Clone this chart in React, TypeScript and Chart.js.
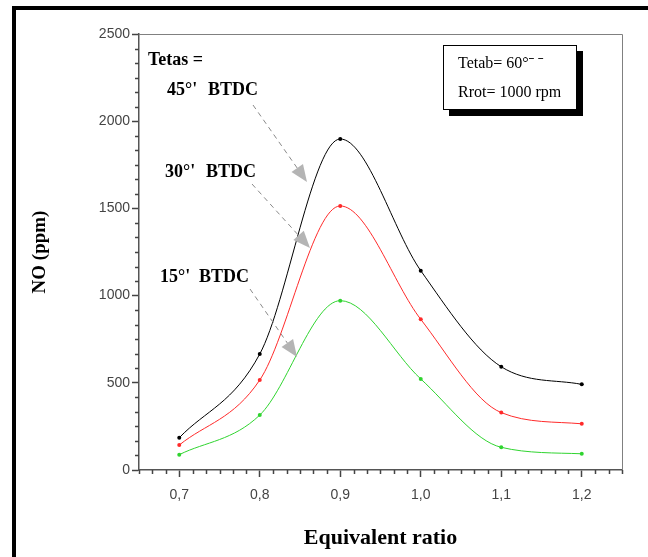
import React, { useEffect, useRef } from 'react';
import { Chart, registerables } from 'chart.js';

Chart.register(...registerables);

// ---- data ----
const equivalentRatio = [0.7, 0.8, 0.9, 1.0, 1.1, 1.2];
const no45 = [185, 665, 1898, 1143, 592, 491];
const no30 = [143, 516, 1514, 864, 329, 265];
const no15 = [88, 315, 971, 522, 130, 93];
const xMajorTicks = [0.7, 0.8, 0.9, 1.0, 1.1, 1.2];
const yMajorTicks = [0, 500, 1000, 1500, 2000, 2500];
const seriesDegrees = ["45°'", "30°'", "15°'"];
const seriesSuffix = 'BTDC';
const groupTitle = 'Tetas =';
const infoLines = ['Tetab= 60°ˉ ˉ', 'Rrot= 1000 rpm'];
const xTitle = 'Equivalent ratio';
const yTitle = 'NO (ppm)';

const xMinorTicks: number[] = [];
for (let k = -3; k <= 33; k++) if (k % 6 !== 0) xMinorTicks.push(0.7 + k / 60);
const yMinorTicks: number[] = [];
for (let k = 1; k < 30; k++) if (k % 6 !== 0) yMinorTicks.push((k * 500) / 6);

const toPts = (ys: number[]) => equivalentRatio.map((x, i) => ({ x, y: ys[i] }));

const SERIF = '"Liberation Serif", "Times New Roman", serif';
const SANS = '"Liberation Sans", Arial, sans-serif';

function arrow(ctx: CanvasRenderingContext2D, x0: number, y0: number, x1: number, y1: number) {
  const ang = Math.atan2(y1 - y0, x1 - x0);
  const len = 17;
  const hw = 7;
  const bx = x1 - len * Math.cos(ang);
  const by = y1 - len * Math.sin(ang);
  ctx.save();
  ctx.strokeStyle = '#8a8a8a';
  ctx.lineWidth = 1;
  ctx.setLineDash([5, 4]);
  ctx.beginPath();
  ctx.moveTo(x0, y0);
  ctx.lineTo(bx, by);
  ctx.stroke();
  ctx.setLineDash([]);
  ctx.fillStyle = '#b4b4b4';
  ctx.beginPath();
  ctx.moveTo(x1, y1);
  ctx.lineTo(bx + hw * Math.sin(ang), by - hw * Math.cos(ang));
  ctx.lineTo(bx - hw * Math.sin(ang), by + hw * Math.cos(ang));
  ctx.closePath();
  ctx.fill();
  ctx.restore();
}

const decorPlugin = {
  id: 'decor',
  afterDraw(chart: any) {
    const ctx: CanvasRenderingContext2D = chart.ctx;
    const { left, right, top, bottom } = chart.chartArea;
    const xs = chart.scales.x;
    const ys = chart.scales.y;
    ctx.save();
    // top and right frame
    ctx.strokeStyle = '#808080';
    ctx.lineWidth = 1;
    ctx.beginPath();
    ctx.moveTo(left, top + 0.5);
    ctx.lineTo(right + 0.5, top + 0.5);
    ctx.lineTo(right + 0.5, bottom);
    ctx.stroke();
    // minor ticks
    ctx.strokeStyle = '#444';
    ctx.lineWidth = 1.5;
    ctx.beginPath();
    xMinorTicks.forEach((v) => {
      const px = Math.round(xs.getPixelForValue(v)) + 0.5;
      ctx.moveTo(px, bottom);
      ctx.lineTo(px, bottom + 4);
    });
    yMinorTicks.forEach((v) => {
      const py = Math.round(ys.getPixelForValue(v)) + 0.5;
      ctx.moveTo(left, py);
      ctx.lineTo(left - 4, py);
    });
    ctx.stroke();

    // series labels
    ctx.fillStyle = '#000';
    ctx.textBaseline = 'middle';
    ctx.textAlign = 'left';
    ctx.font = `bold 18px ${SERIF}`;
    ctx.fillText(groupTitle, 148, 60);
    const rows = [
      { x: 167, bx: 208, y: 90 },
      { x: 165, bx: 206, y: 172 },
      { x: 160, bx: 199, y: 277 },
    ];
    rows.forEach((r, i) => {
      ctx.fillText(seriesDegrees[i], r.x, r.y);
      ctx.fillText(seriesSuffix, r.bx, r.y);
    });

    // arrows
    arrow(ctx, 253, 105, 307, 182);
    arrow(ctx, 252, 184, 310, 248);
    arrow(ctx, 250, 289, 297, 357);

    // info box with shadow
    ctx.fillStyle = '#000';
    ctx.fillRect(449, 51, 134, 65);
    ctx.fillStyle = '#fff';
    ctx.fillRect(443, 45, 134, 65);
    ctx.strokeStyle = '#000';
    ctx.lineWidth = 1;
    ctx.strokeRect(443.5, 45.5, 133, 64);
    ctx.fillStyle = '#000';
    ctx.font = `16px ${SERIF}`;
    ctx.fillText(infoLines[0], 458, 64);
    ctx.fillText(infoLines[1], 458, 93);
    ctx.restore();
  },
};

export default function App() {
  const canvasRef = useRef<HTMLCanvasElement | null>(null);

  useEffect(() => {
    const canvas = canvasRef.current;
    if (!canvas) return;
    const mk = (data: number[], color: string) => ({
      data: toPts(data),
      borderColor: color,
      backgroundColor: color,
      borderWidth: 1,
      pointRadius: 2,
      pointBorderWidth: 0,
      cubicInterpolationMode: 'monotone',
      fill: false,
    });
    const chart = new Chart(canvas, {
      type: 'line',
      data: {
        datasets: [mk(no45, '#000000'), mk(no30, '#ff2a2a'), mk(no15, '#2fd42f')],
      },
      options: {
        animation: false,
        responsive: false,
        devicePixelRatio: 1,
        layout: { padding: { top: 34, right: 26, left: 0, bottom: 0 } },
        plugins: { legend: { display: false }, tooltip: { enabled: false } },
        scales: {
          x: {
            type: 'linear',
            min: 0.65,
            max: 1.25,
            afterFit: (s: any) => {
              s.height = 87;
            },
            afterBuildTicks: (s: any) => {
              s.ticks = xMajorTicks.map((v) => ({ value: v }));
            },
            ticks: {
              color: '#444',
              font: { family: SANS, size: 14 },
              padding: 10,
              maxRotation: 0,
              autoSkip: false,
              callback: (v: any) => Number(v).toFixed(1).replace('.', ','),
            },
            grid: { drawOnChartArea: false, drawTicks: true, tickLength: 7, tickColor: '#444', tickWidth: 1.5 },
            border: { display: true, color: '#555', width: 1.5 },
            title: {
              display: true,
              text: xTitle,
              color: '#000',
              font: { family: SERIF, size: 22, weight: 'bold' },
              padding: { top: 0, bottom: 5 },
            },
          },
          y: {
            type: 'linear',
            min: 0,
            max: 2500,
            afterFit: (s: any) => {
              s.width = 139;
            },
            afterBuildTicks: (s: any) => {
              s.ticks = yMajorTicks.map((v) => ({ value: v }));
            },
            ticks: {
              color: '#444',
              font: { family: SANS, size: 14 },
              padding: 2,
              autoSkip: false,
              callback: (v: any) => String(v),
            },
            grid: { drawOnChartArea: false, drawTicks: true, tickLength: 7, tickColor: '#444', tickWidth: 1.5 },
            border: { display: true, color: '#555', width: 1.5 },
            title: {
              display: true,
              text: yTitle,
              color: '#000',
              font: { family: SERIF, size: 19, weight: 'bold' },
              padding: { top: 29, bottom: 0 },
            },
          },
        },
      } as any,
      plugins: [decorPlugin],
    });
    return () => chart.destroy();
  }, []);

  return (
    <div style={{ position: 'fixed', left: 0, top: 0, width: 648, height: 557, background: '#fff', overflow: 'hidden' }}>
      <div
        style={{
          position: 'absolute',
          left: 12,
          top: 6,
          width: 700,
          height: 600,
          borderLeft: '4px solid #000',
          borderTop: '4px solid #000',
        }}
      />
      <canvas ref={canvasRef} width={648} height={557} style={{ position: 'absolute', left: 0, top: 0, width: 648, height: 557 }} />
    </div>
  );
}
